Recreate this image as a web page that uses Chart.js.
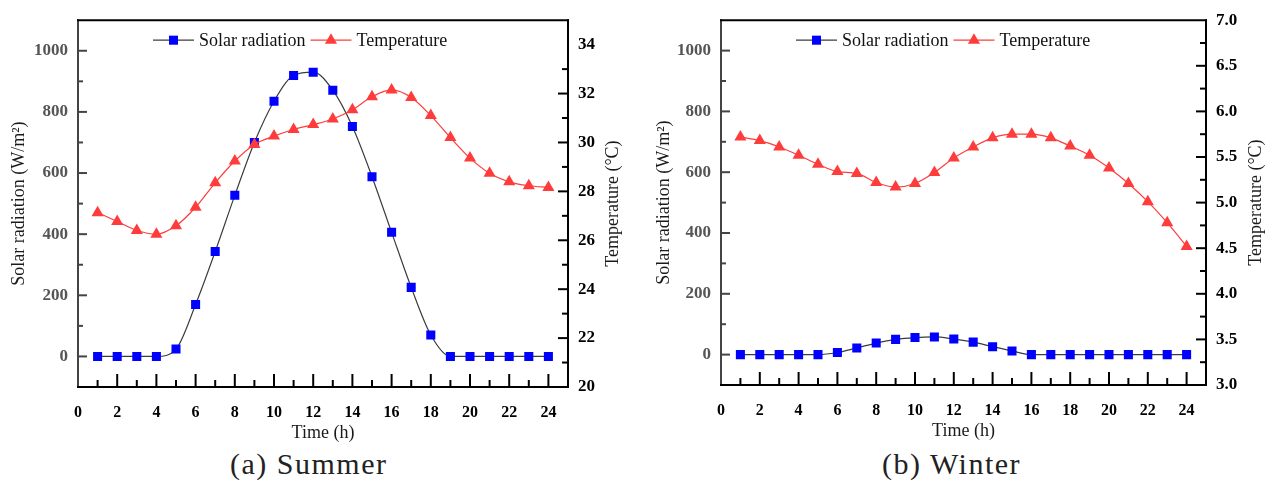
<!DOCTYPE html>
<html>
<head>
<meta charset="utf-8">
<script src="https://cdn.jsdelivr.net/npm/chart.js@4.4.0/dist/chart.umd.min.js"></script>
<style>
  body { margin: 0; background: #fff; width: 1271px; height: 483px; position: relative; overflow: hidden; }
  .panel { position: absolute; top: 0; }
  .caption { position: absolute; top: 447px; font: 30px 'Liberation Serif', serif; letter-spacing: 1.5px; color: #222; white-space: nowrap; }
</style>
</head>
<body>
<div class="panel" style="left:0"><canvas id="summer" width="640" height="445"></canvas></div>
<div class="panel" style="left:640px"><canvas id="winter" width="631" height="445"></canvas></div>
<div class="caption" style="left:230px">(a) Summer</div>
<div class="caption" style="left:882px">(b) Winter</div>
<script>
// hours of the day
var hours = [1,2,3,4,5,6,7,8,9,10,11,12,13,14,15,16,17,18,19,20,21,22,23,24];

// summer
var summerSolar = [0,0,0,0,24,170,343,527,700,835,919,930,871,752,588,406,226,70,0,0,0,0,0,0];
var summerTemp = [27.13,26.77,26.40,26.25,26.59,27.35,28.35,29.24,29.92,30.26,30.53,30.73,30.96,31.34,31.87,32.15,31.84,31.10,30.20,29.36,28.74,28.39,28.23,28.16];

// winter
var winterSolar = [0,0,0,0,0,7,22,38,50,56,58,51,41,26,12,0,0,0,0,0,0,0,0,0];
var winterTemp = [5.72,5.68,5.61,5.52,5.42,5.34,5.32,5.22,5.17,5.21,5.33,5.49,5.61,5.71,5.75,5.75,5.71,5.62,5.52,5.38,5.21,5.01,4.78,4.52];

// tick labels
var xTicks = [0,2,4,6,8,10,12,14,16,18,20,22,24];
var solarTicks = [0,200,400,600,800,1000];
var summerTempTicks = [20,22,24,26,28,30,32,34];
var winterTempTicks = [3.0,3.5,4.0,4.5,5.0,5.5,6.0,6.5,7.0];

var serif = "'Liberation Serif', 'Times New Roman', serif";

function range(from, to, step){
  var out = [];
  for(var v = from; v <= to + 1e-9; v += step){ out.push(Math.round(v * 1000) / 1000); }
  return out;
}

// frame, inward ticks, axis titles and the legend inside the plot
var decor = {
  id: 'decor',
  beforeDatasetsDraw: function(chart){
    var o = chart.options.plugins.decor;
    var ctx = chart.ctx, a = chart.chartArea;
    var sx = chart.scales.x, sy = chart.scales.y, sy2 = chart.scales.y2;
    ctx.save();
    ctx.lineWidth = 2;
    ctx.lineCap = 'butt';

    function tick(x1, y1, x2, y2, color){
      ctx.strokeStyle = color;
      ctx.beginPath(); ctx.moveTo(x1, y1); ctx.lineTo(x2, y2); ctx.stroke();
    }
    // x ticks
    range(1, 24, 1).forEach(function(v){
      var px = sx.getPixelForValue(v);
      tick(px, a.bottom, px, a.bottom - (v % 2 === 0 ? 13 : 7), '#000');
    });
    // left ticks
    solarTicks.forEach(function(v){
      var py = sy.getPixelForValue(v);
      tick(a.left, py, a.left + 9, py, '#444');
    });
    range(100, 1000, 200).forEach(function(v){
      var py = sy.getPixelForValue(v);
      tick(a.left, py, a.left + 5, py, '#444');
    });
    // right ticks
    o.rightMajor.forEach(function(v){
      var py = sy2.getPixelForValue(v);
      tick(a.right, py, a.right - 10, py, '#000');
    });
    o.rightMinor.forEach(function(v){
      var py = sy2.getPixelForValue(v);
      tick(a.right, py, a.right - 6, py, '#000');
    });

    // frame
    tick(a.left, a.top - 1, a.left, a.bottom + 1, '#444');
    tick(a.left - 1, a.bottom, a.right + 1, a.bottom, '#000');
    tick(a.left - 1, a.top, a.right + 1, a.top, '#000');
    tick(a.right, a.top - 1, a.right, a.bottom + 1, '#000');

    // axis titles
    ctx.font = '18px ' + serif;
    ctx.fillStyle = '#1a1a1a';
    ctx.textAlign = 'center';
    ctx.textBaseline = 'middle';
    var midY = (a.top + a.bottom) / 2;
    ctx.save();
    ctx.translate(a.left + o.leftTitleDx, midY);
    ctx.rotate(-Math.PI / 2);
    ctx.fillText('Solar radiation (W/m\u00B2)', 0, 0);
    ctx.restore();
    ctx.save();
    ctx.translate(a.right + o.rightTitleDx, midY);
    ctx.rotate(-Math.PI / 2);
    ctx.fillText('Temperature (\u00B0C)', 0, 0);
    ctx.restore();
    ctx.fillText('Time (h)', (a.left + a.right) / 2, a.bottom + 46);
    ctx.restore();
  },
  afterDatasetsDraw: function(chart){
    var ctx = chart.ctx, a = chart.chartArea;
    var x = a.left + 75, y = a.top + 20;
    ctx.save();
    ctx.font = '18px ' + serif;
    ctx.textBaseline = 'middle';
    ctx.textAlign = 'left';
    chart.data.datasets.forEach(function(ds){
      ctx.strokeStyle = ds.borderColor;
      ctx.lineWidth = ds.borderWidth;
      ctx.beginPath(); ctx.moveTo(x, y); ctx.lineTo(x + 41, y); ctx.stroke();
      ctx.fillStyle = ds.pointBackgroundColor;
      var cx = x + 20.5, r = ds.pointRadius;
      ctx.beginPath();
      if(ds.pointStyle === 'rect'){
        var h = r * Math.SQRT1_2;
        ctx.rect(cx - h, y - h, 2 * h, 2 * h);
      } else {
        ctx.moveTo(cx, y - r);
        ctx.lineTo(cx + r * 0.866, y + r * 0.5);
        ctx.lineTo(cx - r * 0.866, y + r * 0.5);
        ctx.closePath();
      }
      ctx.fill();
      ctx.fillStyle = '#111';
      ctx.fillText(ds.label, x + 46, y + 1);
      x += 46 + ctx.measureText(ds.label).width + 5;
    });
    ctx.restore();
  }
};

function makeChart(id, solar, temp, tempMin, tempMax, tempTicks, tempStep, box, titles){
  var canvas = document.getElementById(id);
  var fmt = function(v){ return tempStep < 1 ? Number(v).toFixed(1) : String(v); };
  var plain = function(v){ return String(v); };
  var tickFont = { family: serif, size: 17, weight: 'bold' };
  var opt = {
    type: 'line',
    data: {
      labels: hours,
      datasets: [{
        label: 'Solar radiation',
        data: solar,
        yAxisID: 'y',
        order: 1,
        borderColor: '#3c3c3c',
        borderWidth: 1.2,
        pointStyle: 'rect',
        pointRadius: 6.4,
        pointHoverRadius: 6.4,
        pointBackgroundColor: '#0000ff',
        pointBorderColor: '#0000ff',
        pointBorderWidth: 0,
        cubicInterpolationMode: 'monotone'
      },
      {
        label: 'Temperature',
        data: temp,
        yAxisID: 'y2',
        order: 0,
        borderColor: '#ff3c3c',
        borderWidth: 1.2,
        pointStyle: 'triangle',
        pointRadius: 7,
        pointHoverRadius: 7,
        pointBackgroundColor: '#ff3c3c',
        pointBorderColor: '#ff3c3c',
        pointBorderWidth: 0,
        cubicInterpolationMode: 'monotone'
      }]
    },
    options: {
      responsive: false,
      animation: false,
      layout: { padding: { top: box.top, left: 0, right: 0, bottom: 0 } },
      plugins: {
        legend: { display: false },
        tooltip: { enabled: false },
        decor: {
          rightMajor: tempTicks.slice(1, -1),
          rightMinor: range(tempMin + tempStep / 2, tempMax - tempStep / 2, tempStep),
          leftTitleDx: titles.left,
          rightTitleDx: titles.right
        }
      },
      scales: {
        x: {
          type: 'linear',
          min: 0, max: 25,
          grid: { display: false, drawTicks: false },
          border: { display: false },
          afterBuildTicks: function(s){ s.ticks = xTicks.map(function(v){ return { value: v }; }); },
          afterFit: function(s){ s.height = canvas.height - box.bottom; },
          ticks: { padding: 16, color: '#000', font: { family: serif, size: 16, weight: 'bold' }, maxRotation: 0, callback: plain }
        },
        y: {
          position: 'left',
          min: -100, max: 1100,
          grid: { display: false, drawTicks: false },
          border: { display: false },
          afterBuildTicks: function(s){ s.ticks = solarTicks.map(function(v){ return { value: v }; }); },
          afterFit: function(s){ s.width = box.left; },
          ticks: { padding: 10, color: '#555', font: tickFont, callback: plain }
        },
        y2: {
          position: 'right',
          min: tempMin, max: tempMax,
          grid: { display: false, drawTicks: false },
          border: { display: false },
          afterBuildTicks: function(s){ s.ticks = tempTicks.map(function(v){ return { value: v }; }); },
          afterFit: function(s){ s.width = canvas.width - box.right; },
          ticks: { padding: 10, color: '#000', font: tickFont, callback: fmt }
        }
      }
    },
    plugins: [decor]
  };
  // x values come from the hours list
  opt.data.datasets.forEach(function(ds){
    ds.data = ds.data.map(function(v, i){ return { x: hours[i], y: v }; });
  });
  return new Chart(canvas, opt);
}

makeChart('summer', summerSolar, summerTemp, 20, 35, summerTempTicks, 2,
  { left: 78, right: 568, top: 17, bottom: 387 }, { left: -59, right: 45 });
makeChart('winter', winterSolar, winterTemp, 3, 7, winterTempTicks, 0.5,
  { left: 81, right: 566, top: 20, bottom: 385 }, { left: -57, right: 50 });
</script>
</body>
</html>
